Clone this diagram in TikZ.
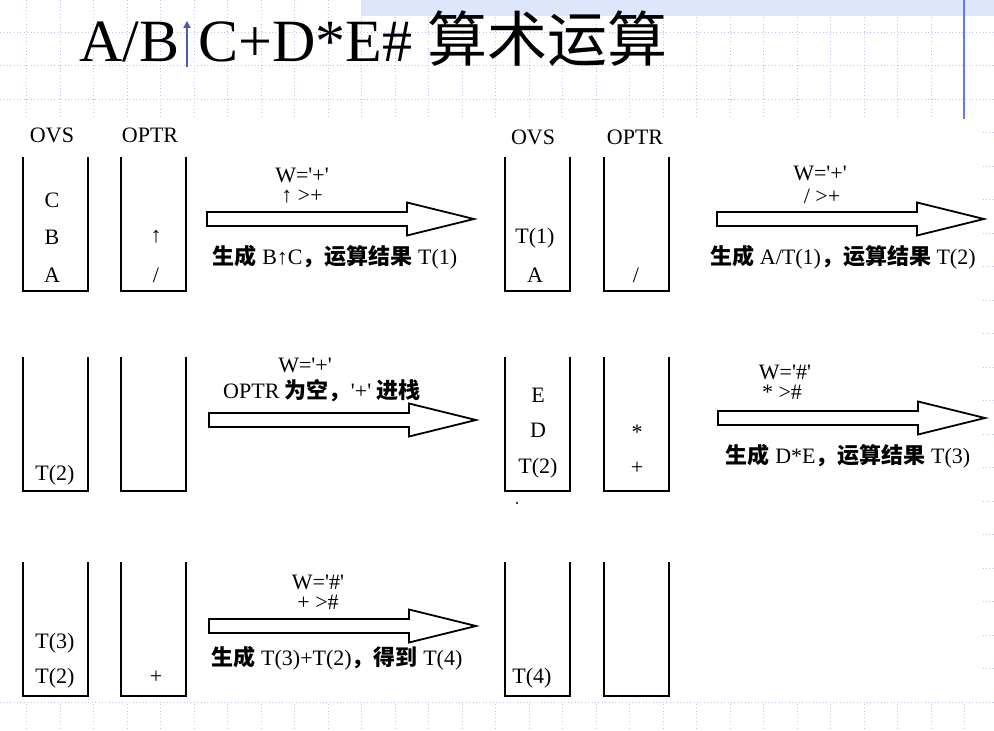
\documentclass[tikz,border=0pt]{standalone}
\usepackage{fontspec}
\setmainfont{Liberation Serif}
\newfontfamily\cjk{Noto Sans CJK SC}
\usetikzlibrary{arrows.meta}

\definecolor{gridblue}{RGB}{185,195,235}
\definecolor{bandblue}{RGB}{222,230,252}
\definecolor{ruleblue}{RGB}{100,120,240}
\definecolor{arrowblue}{RGB}{80,90,165}
\newcommand\zh[1]{{\cjk\bfseries #1}}
\newcommand\qt[1]{\textquotesingle#1\textquotesingle}

\begin{document}
\begin{tikzpicture}[x=0.5pt,y=-0.5pt,>=Latex]
  \tikzstyle{txt}=[font=\fontsize{11pt}{13pt}\selectfont,inner sep=1pt]
  \tikzstyle{headline}=[font=\fontsize{30pt}{30pt}\selectfont,inner sep=0pt]
  \tikzstyle{gridline}=[gridblue,line width=0.5pt,dash pattern=on 0.5pt off 1.2pt]
  \tikzstyle{stackline}=[line width=1.4pt]
  \tikzstyle{fatline}=[line width=0.9pt,fill=white]
  \tikzset{
    pics/stack/.style={code={\draw[stackline] (0,0) -- (0,134) -- (65,134) -- (65,0);}},
    pics/fatarrow/.style={code={\draw[fatline] (0,-7) -- (200,-7) -- (200,-16.5) -- (267,0) -- (200,16.5) -- (200,7) -- (0,7) -- cycle;}}
  }
  \useasboundingbox (0,0) rectangle (994,731);
  % slide background
  \foreach \gx in {0,...,28} \draw[gridline] ({26.7+33.5*\gx},0) -- ({26.7+33.5*\gx},731);
  \foreach \gy in {0,...,20} \draw[gridline] (0,{32.3+33.5*\gy}) -- (994,{32.3+33.5*\gy});
  \fill[bandblue] (361,0) rectangle (994,16);
  \draw[ruleblue,line width=0.7pt] (964,0) -- (964,119);
  \fill[white] (-1,119) rectangle (982,701);

  % title
  \node[headline,anchor=base west] (tl) at (79,62) {A/B};
  \node[headline,anchor=base west] (tr) at (198,62) {C+D*E\# {\cjk 算术运算}};
  \coordinate (upb) at (187,67);
  \coordinate (upt) at (187,21);
  \draw[arrowblue,line width=0.6pt,-{Triangle[width=3.6pt,length=3.4pt]}] (upb) -- (upt);

  % row 1
  \pic at (23,157) {stack};
  \pic at (121,157) {stack};
  \pic at (505,157) {stack};
  \pic at (604,157) {stack};
  \node[txt] (ovs1) at (52,135) {OVS};
  \node[txt] (optr1) at (150,135) {OPTR};
  \node[txt] (ovs2) at (533,137) {OVS};
  \node[txt] (optr2) at (635,137) {OPTR};
  \node[txt] (c11) at (52,200) {C};
  \node[txt] (b11) at (52,237) {B};
  \node[txt] (a11) at (52,275) {A};
  \node[txt] (up11) at (156,237) {↑};
  \node[txt] (sl11) at (156,275) {/};
  \node[txt] (t12) at (535,238) {T(1)};
  \node[txt] (a12) at (535,275) {A};
  \node[txt] (sl12) at (636,275) {/};
  \coordinate (a1) at (207,219);
  \coordinate (a2) at (717,219);
  \pic at (a1) {fatarrow};
  \pic at (a2) {fatarrow};
  \node[txt] (w1) at (302,175) {W=\qt{+}};
  \node[txt] (c1) at (302,197) {↑ >+};
  \node[txt] (r1) at (335,257) {\zh{生成} B↑C\zh{，运算结果} T(1)};
  \node[txt] (w2) at (820,173) {W=\qt{+}};
  \node[txt] (c2) at (822,196) {/ >+};
  \node[txt] (r2) at (843,257) {\zh{生成} A/T(1)\zh{，运算结果} T(2)};

  % row 2
  \pic at (23,357) {stack};
  \pic at (121,357) {stack};
  \pic at (505,357) {stack};
  \pic at (604,357) {stack};
  \node[txt] (t21) at (55,475) {T(2)};
  \node[txt] (e22) at (538,395) {E};
  \node[txt] (d22) at (538,430) {D};
  \node[txt] (t22) at (538,468) {T(2)};
  \node[txt] (st22) at (637,432) {*};
  \node[txt] (pl22) at (637,468) {+};
  \fill (517,503) circle (0.6pt);
  \coordinate (a3) at (209,420);
  \coordinate (a4) at (718,418);
  \pic at (a3) {fatarrow};
  \pic at (a4) {fatarrow};
  \node[txt] (w3) at (305,365) {W=\qt{+}};
  \node[txt] (c3) at (322,391) {OPTR \zh{为空，}\qt{+} \zh{进栈}};
  \node[txt] (w4) at (785,372) {W=\qt{\#}};
  \node[txt] (c4) at (782,392) {* >\#};
  \node[txt] (r4) at (848,456) {\zh{生成} D*E\zh{，运算结果} T(3)};

  % row 3
  \pic at (23,562) {stack};
  \pic at (121,562) {stack};
  \pic at (505,562) {stack};
  \pic at (604,562) {stack};
  \node[txt] (t31) at (55,643) {T(3)};
  \node[txt] (t31b) at (55,678) {T(2)};
  \node[txt] (pl31) at (156,677) {+};
  \node[txt] (t32) at (532,678) {T(4)};
  \coordinate (a5) at (209,626);
  \pic at (a5) {fatarrow};
  \node[txt] (w5) at (318,582) {W=\qt{\#}};
  \node[txt] (c5) at (318,602) {+ >\#};
  \node[txt] (r5) at (337,658) {\zh{生成} T(3)+T(2)\zh{，得到} T(4)};
\end{tikzpicture}
\end{document}
